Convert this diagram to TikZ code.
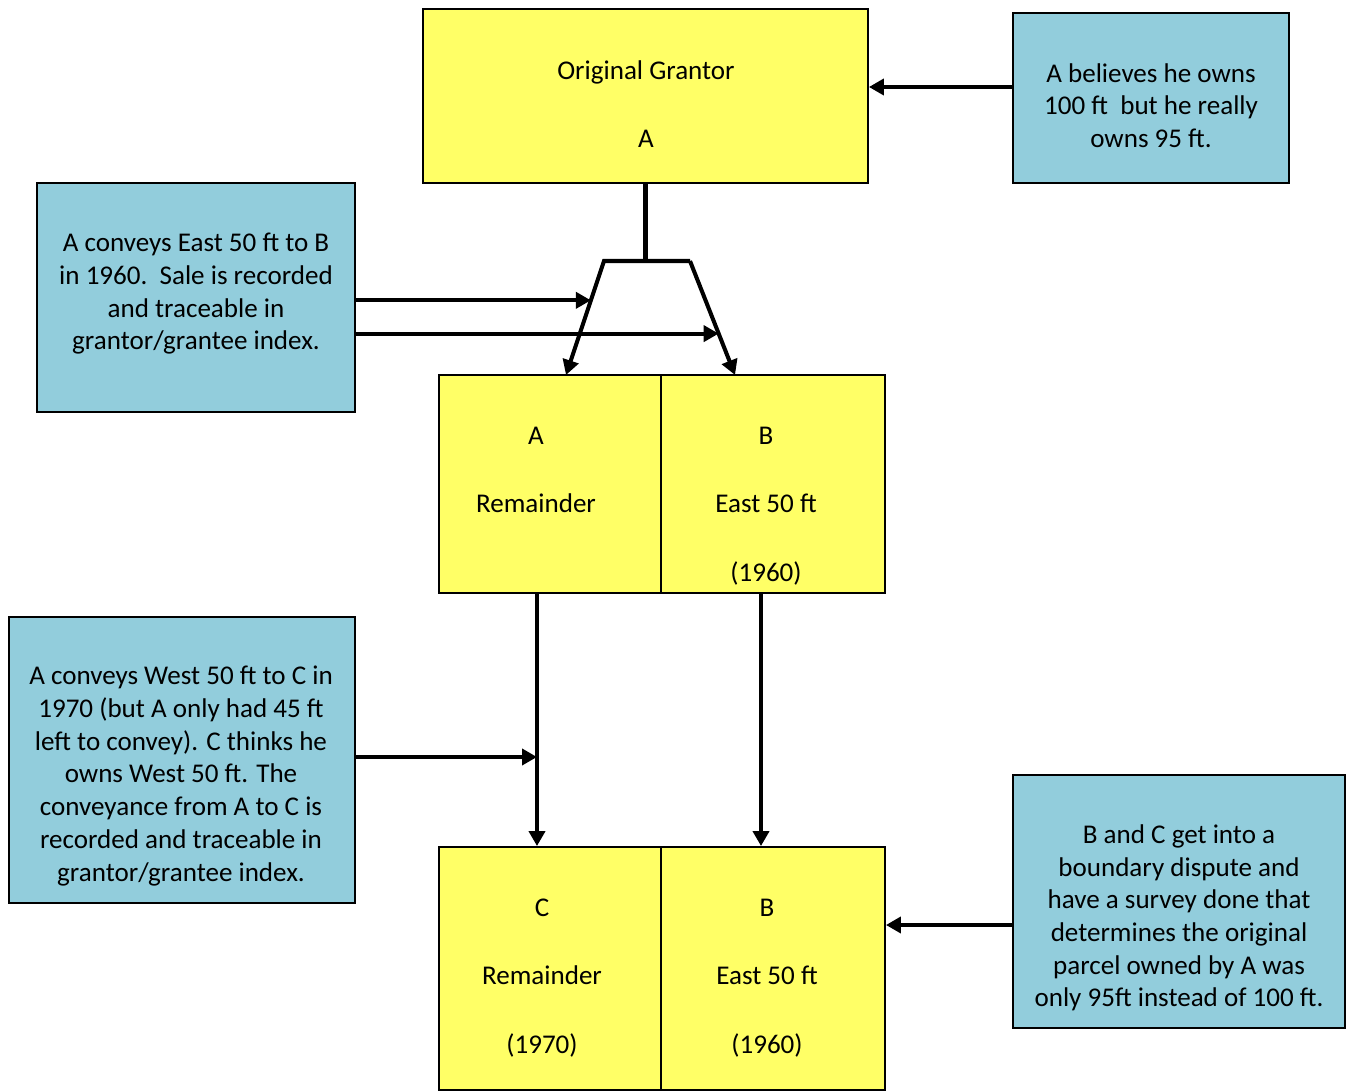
\documentclass[tikz,border=0pt]{standalone}
\usepackage{fontspec}
\setmainfont{Carlito}
\usetikzlibrary{arrows.meta,calc}
\definecolor{deedyellow}{RGB}{255,255,102}
\definecolor{noteblue}{RGB}{146,205,220}
\tikzset{%
parcel/.style={draw,fill=deedyellow,line width=1.1pt,inner sep=0pt},
note/.style={draw,fill=noteblue,line width=1.1pt,inner sep=0pt},
words/.style={align=center,font=\fontsize{15.4}{18.6}\selectfont},
link/.style={draw,line width=2.3pt},
convey/.style={draw,line width=2.3pt,-{Triangle[length=0.3cm,width=0.32cm]}}
}

\begin{document}
\begin{tikzpicture}[x=0.02cm,y=-0.02cm]
\useasboundingbox (0,0) rectangle (1346,1091);

\node[parcel,minimum width=8.9cm,minimum height=3.48cm]  (orig)    at (645.5,96)  {};
\node[parcel,minimum width=4.44cm,minimum height=4.36cm] (parcA)   at (550,484)   {};
\node[parcel,minimum width=4.48cm,minimum height=4.36cm] (parcB)   at (773,484)   {};
\node[parcel,minimum width=4.44cm,minimum height=4.86cm] (parcC)   at (550,968.5) {};
\node[parcel,minimum width=4.48cm,minimum height=4.86cm] (parcBB)  at (773,968.5) {};

\node[note,minimum width=5.52cm,minimum height=3.4cm]  (belief)  at (1151,98)    {};
\node[note,minimum width=6.36cm,minimum height=4.58cm] (sale)    at (196,297.5)  {};
\node[note,minimum width=6.92cm,minimum height=5.72cm] (sale2)   at (182,760)    {};
\node[note,minimum width=6.64cm,minimum height=5.06cm] (survey)  at (1179,901.5) {};

\node[words] (origtxt)   at (646,104)   {Original Grantor\\[20pt]A};
\node[words] (parcAtxt)  at (536,470)   {A\\[20pt]Remainder};
\node[words] (parcBtxt)  at (766,506)   {B\\[20.5pt]East 50 ft\\[20.5pt](1960)};
\node[words] (parcCtxt)  at (542,978)   {C\\[20.5pt]Remainder\\[20.5pt](1970)};
\node[words] (parcBBtxt) at (767,978)   {B\\[20.5pt]East 50 ft\\[20.5pt](1960)};

\node[words] (belieftxt) at (1151,105.5) {A believes he owns\\100 ft\ \ but he really\\owns 95 ft.};
\node[words] (saletxt)   at (196,294)    {A conveys East 50 ft to B\\in 1960.\ \ Sale is recorded\\and traceable in\\grantor/grantee index.};
\node[words] (sale2txt)  at (181,776)    {A conveys West 50 ft to C in\\1970 (but A only had 45 ft\\left to convey). C thinks he\\owns West 50 ft. The\\conveyance from A to C is\\recorded and traceable in\\grantor/grantee index.};
\node[words] (surveytxt) at (1179,918)   {B and C get into a\\boundary dispute and\\have a survey done that\\determines the original\\parcel owned by A was\\only 95ft instead of 100 ft.};

% split of the original parcel
\coordinate (forkL) at (604,261);
\coordinate (forkR) at (690,261);
\coordinate (intoA) at (566,375);
\coordinate (intoB) at (735,375);
\draw[link] (orig.south) -- (orig.south |- forkL);
\draw[convey] (forkR) -- (forkL) -- (intoA);
\draw[convey] (forkR) -- (intoB);

\coordinate (hitA) at ($(forkL)!0.345!(intoA)$);
\coordinate (hitB) at ($(forkR)!0.637!(intoB)$);
\foreach \h in {hitA,hitB}
  \draw[convey] (sale.east |- \h) -- (\h);

% later conveyances
\coordinate (downA) at ([xshift=-0.26cm]parcA.south);
\coordinate (downB) at ([xshift=-0.24cm]parcB.south);
\foreach \d/\o in {downA/parcC,downB/parcBB}
  \draw[convey] (\d) -- (\d |- \o.north);
\draw[convey] ([yshift=0.06cm]sale2.east) -- ([yshift=0.06cm]sale2.east -| downA);

\coordinate (beliefout) at ([yshift=0.22cm]belief.west);
\draw[convey] (beliefout) -- (beliefout -| orig.east);
\coordinate (surveyout) at ([yshift=-0.47cm]survey.west);
\draw[convey] (surveyout) -- (surveyout -| parcBB.east);
\end{tikzpicture}
\end{document}
